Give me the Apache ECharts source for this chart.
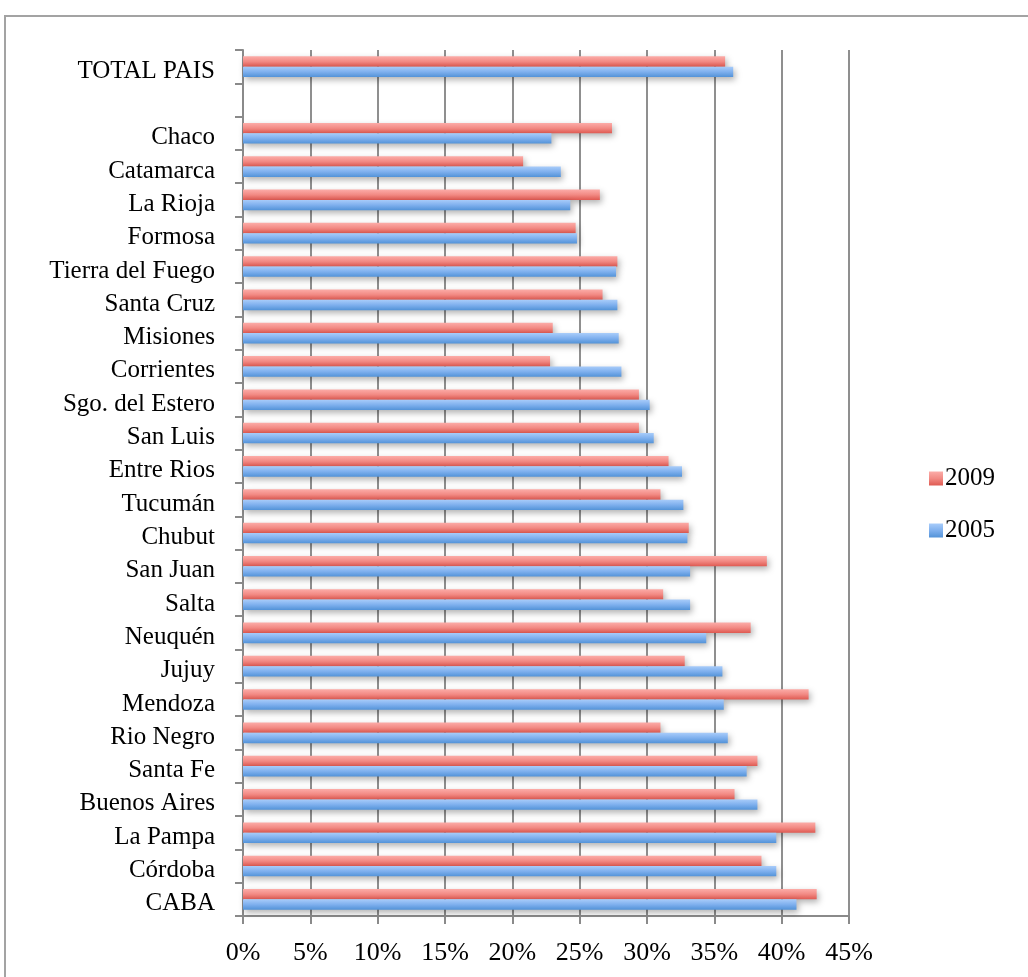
<!DOCTYPE html>
<html>
<head>
<meta charset="utf-8">
<script src="https://cdn.jsdelivr.net/npm/echarts@6/dist/echarts.min.js"></script>
<style>
  html, body { margin: 0; padding: 0; background: #fff; }
  #chart { width: 1028px; height: 977px; }
</style>
</head>
<body>
<div id="chart"></div>
<script>
// categories listed bottom -> top (blank row between Chaco and TOTAL PAIS)
const provincias = [
    "CABA", "Córdoba", "La Pampa", "Buenos Aires", "Santa Fe", "Rio Negro",
    "Mendoza", "Jujuy", "Neuquén", "Salta", "San Juan", "Chubut", "Tucumán",
    "Entre Rios", "San Luis", "Sgo. del Estero", "Corrientes", "Misiones",
    "Santa Cruz", "Tierra del Fuego", "Formosa", "La Rioja", "Catamarca",
    "Chaco", "", "TOTAL PAIS"
];
const valores2005 = [
    41.1, 39.6, 39.6, 38.2, 37.4, 36.0, 35.7, 35.6, 34.4, 33.2, 33.2, 33.0, 32.7,
    32.6, 30.5, 30.2, 28.1, 27.9, 27.8, 27.7, 24.8, 24.3, 23.6, 22.9, "-", 36.4
];
const valores2009 = [
    42.6, 38.5, 42.5, 36.5, 38.2, 31.0, 42.0, 32.8, 37.7, 31.2, 38.9, 33.1, 31.0,
    31.6, 29.4, 29.4, 22.8, 23.0, 26.7, 27.8, 24.7, 26.5, 20.8, 27.4, "-", 35.8
];
const ticksPct = [0, 5, 10, 15, 20, 25, 30, 35, 40, 45];

const chart = echarts.init(document.getElementById("chart"));
const fontFam = "'Liberation Serif', 'DejaVu Serif', serif";

const grad = (top, mid, bottom) => new echarts.graphic.LinearGradient(0, 0, 0, 1, [
    {offset: 0, color: top},
    {offset: 0.5, color: mid},
    {offset: 1, color: bottom},
]);

const barShadow = {
    shadowColor: "rgba(0,0,0,0.3)",
    shadowBlur: 6,
    shadowOffsetX: 2,
    shadowOffsetY: 3,
};

const option = {
    animation: false,
    backgroundColor: "#fff",
    graphic: [{
        type: "rect",
        shape: {x: 5, y: 16, width: 1100, height: 1100},
        style: {fill: "none", stroke: "#a3a3a3", lineWidth: 2},
        silent: true,
    }],
    legend: {
        orient: "vertical",
        left: 924,
        top: 461,
        itemGap: 27,
        itemWidth: 14,
        itemHeight: 14,
        data: ["2009", "2005"],
        textStyle: {fontFamily: fontFam, fontSize: 25, color: "#000", padding: [0, 0, 0, -3]},
        icon: "rect",
    },
    grid: {left: 243, right: 179, top: 50, bottom: 61},
    xAxis: {
        type: "value",
        min: ticksPct[0],
        max: ticksPct[ticksPct.length - 1],
        interval: 5,
        axisLine: {show: true, lineStyle: {color: "#8a8a8a", width: 2}},
        axisTick: {show: true, length: 8, lineStyle: {color: "#8a8a8a", width: 2}},
        axisLabel: {
            formatter: (v) => v + "%",
            fontFamily: fontFam, fontSize: 26, color: "#000", margin: 24,
        },
        splitLine: {show: true, lineStyle: {color: "#8f8f8f", width: 2}},
    },
    yAxis: {
        type: "category",
        data: provincias,
        axisLine: {show: true, lineStyle: {color: "#8a8a8a", width: 2}},
        axisTick: {show: true, length: 8, alignWithLabel: false, lineStyle: {color: "#8a8a8a", width: 2}},
        axisLabel: {
            margin: 28,
            formatter: (v) => v ? "{p|" + v + "}" : "",
            rich: {
                p: {fontFamily: fontFam, fontSize: 25, color: "#000", padding: [9, 0, 0, 0]},
            },
        },
    },
    series: [
        {
            name: "2009",
            type: "bar",
            data: valores2009,
            barGap: "0%",
            barCategoryGap: "38%",
            itemStyle: Object.assign({color: grad("#fcaca8", "#f28a84", "#df5a52")}, barShadow),
        },
        {
            name: "2005",
            type: "bar",
            data: valores2005,
            barGap: "0%",
            barCategoryGap: "38%",
            itemStyle: Object.assign({color: grad("#a8ccfa", "#7fb0ee", "#5393d8")}, barShadow),
        },
    ],
};

chart.setOption(option);
</script>
</body>
</html>
